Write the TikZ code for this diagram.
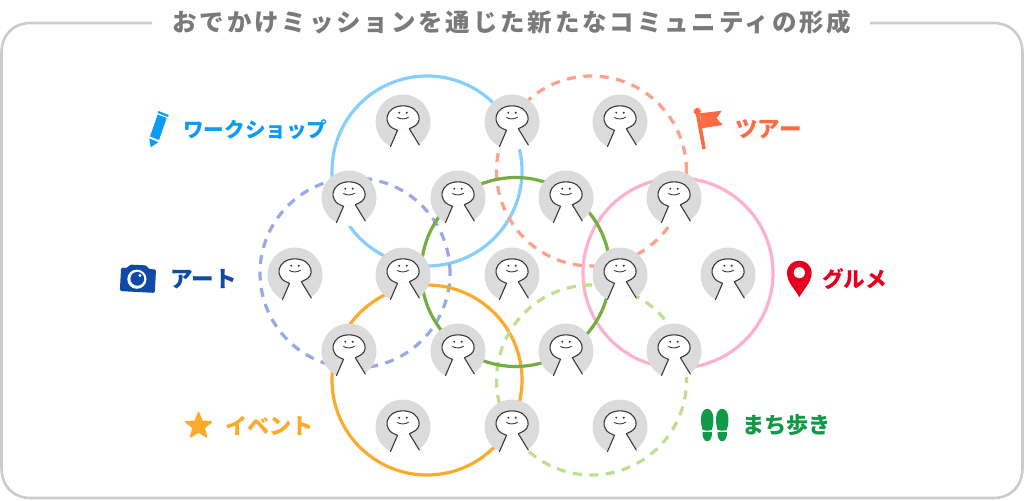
\documentclass[tikz,border=0pt]{standalone}
\usepackage{fontspec}
\usetikzlibrary{shapes.geometric}
\newfontfamily\jpfont{Noto Sans CJK JP}
\newfontfamily\jptitle[LetterSpace=11.5]{Noto Sans CJK JP}
\definecolor{cFrame}{HTML}{CCCCCC}
\definecolor{cTitle}{HTML}{7A7A7A}
\definecolor{cFace}{HTML}{DBDBDB}
\definecolor{cInk}{HTML}{3A3A3A}
\definecolor{cWork}{HTML}{0A9CF5}
\definecolor{cWorkR}{HTML}{85CFFF}
\definecolor{cTour}{HTML}{FF6A45}
\definecolor{cTourR}{HTML}{FFA08C}
\definecolor{cGour}{HTML}{E60020}
\definecolor{cGourR}{HTML}{FFB0CC}
\definecolor{cArt}{HTML}{0F4AA6}
\definecolor{cArtR}{HTML}{9AA8E8}
\definecolor{cEvent}{HTML}{FCAA2B}
\definecolor{cWalk}{HTML}{0F9A48}
\definecolor{cWalkR}{HTML}{BCE08D}
\definecolor{cCore}{HTML}{74AE42}
\tikzset{
  ring/.style={line width=3.2pt},
  dashring/.style={line width=3.2pt,dash pattern=on 9pt off 7.5pt},
  tagtext/.style={font=\jpfont\bfseries\fontsize{#1}{#1}\selectfont,inner sep=0pt,anchor=west},
  titletext/.style={font=\jptitle\bfseries\fontsize{24.5}{25}\selectfont,text=cTitle,inner sep=0pt},
  person/.pic={
    \fill[cFace] (0,0) circle[radius=27.5pt];
    \fill[white] (-5.5,8.3) -- (-13,26) .. controls (-6,29) and (8,29) .. (17,24) -- (6.3,6.7) -- cycle;
    \fill[white] (-5.5,8.3) .. controls (-9,6.8) and (-13,5.5) .. (-14.6,1.7)
      .. controls (-17.5,-3) and (-16,-9) .. (-11,-13)
      .. controls (-5,-17.2) and (5,-17.2) .. (11,-13)
      .. controls (16,-9) and (17.5,-3) .. (15,0.8)
      .. controls (13,4) and (9,5.5) .. (6.3,6.7) -- cycle;
    \draw[cInk,line width=1.1pt,line join=round,line cap=round]
      (-12.5,24.5) -- (-5.5,8.3) .. controls (-9,6.8) and (-13,5.5) .. (-14.6,1.7)
      .. controls (-17.5,-3) and (-16,-9) .. (-11,-13)
      .. controls (-5,-17.2) and (5,-17.2) .. (11,-13)
      .. controls (16,-9) and (17.5,-3) .. (15,0.8)
      .. controls (13,4) and (9,5.5) .. (6.3,6.7) -- (16.3,23);
    \fill[cInk] (-3.7,-9.3) circle[radius=1.1pt] (3.7,-9.3) circle[radius=1.1pt];
    \draw[cInk,line width=0.9pt,line cap=round] (-5.5,-4.5) .. controls (-3,-2.6) and (3,-2.6) .. (5.5,-4.8);
  }
}
\begin{document}
\begin{tikzpicture}[x=1pt,y=-1pt]
\useasboundingbox (0,0) rectangle (1024,500);
\fill[white] (0,0) rectangle (1024,500);
% frame
\draw[cFrame,line width=2.6pt] (152,23) -- (31,23) .. controls (13,23) and (1.5,35) .. (1.5,53)
  -- (1.5,468) .. controls (1.5,486) and (13,498) .. (31,498)
  -- (993,498) .. controls (1011,498) and (1022.5,486) .. (1022.5,468)
  -- (1022.5,53) .. controls (1022.5,35) and (1011,23) .. (993,23) -- (870,23);
\node[titletext] (title) at (512,22) {おでかけミッションを通じた新たなコミュニティの形成};
% rings
\draw[ring,cWorkR] (427,171) circle[radius=95pt];
\draw[dashring,cTourR] (591.5,171) circle[radius=95pt];
\draw[ring,cGourR] (678,273) circle[radius=95pt];
\draw[dashring,cArtR] (355,273) circle[radius=95pt];
\draw[ring,cEvent] (427,380) circle[radius=95pt];
\draw[dashring,cWalkR] (591.5,380) circle[radius=95pt];
\draw[ring,cCore] (515.7,272) circle[radius=94.5pt];
% people
\foreach \n/\px/\py in {a1/403/122,a2/512/122,a3/620/122,
  b1/349/198,b2/458/198,b3/566/198,b4/674/198,
  c1/295/275,c2/403/275,c3/512/275,c4/620/275,c5/728/275,
  d1/349/351,d2/458/351,d3/566/351,d4/674/351,
  e1/403/427,e2/512/427,e3/620/427}
  \pic (\n) at (\px,\py) {person};
% labels
\node[tagtext=20.6,text=cWork] (lwork) at (183,130) {ワークショップ};
\node[tagtext=22.6,text=cTour] (ltour) at (735,129) {ツアー};
\node[tagtext=22.6,text=cArt] (lart) at (170,279) {アート};
\node[tagtext=21.7,text=cGour] (lgour) at (822,279) {グルメ};
\node[tagtext=22.2,text=cEvent] (levent) at (225,426) {イベント};
\node[tagtext=22.2,text=cWalk] (lwalk) at (742,425.5) {まち歩き};
% pencil
\fill[cWork] (158.3,111) -- (168.7,115) -- (168,117) -- (157.6,113) -- cycle;
\fill[cWork] (157.7,114.5) -- (166.7,118) -- (159,140) -- (150,136.5) -- cycle;
\fill[cWork] (149.3,138.3) -- (158.3,142.3) -- (150.7,147.3) -- cycle;
% camera
\begin{scope}[rotate around={-3:(138,279)}]
\fill[cArt,rounded corners=1.5pt] (120.5,268.5) -- (127,268.5) -- (129,265) -- (146,265) -- (148,268.5) -- (155.5,268.5) -- (155.5,292) -- (120.5,292) -- cycle;
\end{scope}
\fill[white] (136.9,279.2) circle[radius=9.6pt];
\fill[cArt] (137.3,278.8) circle[radius=6.9pt];
\fill[white] (140,275.5) circle[radius=1.6pt];
% flag
\draw[cTour,line width=3.6pt] (697.3,112) -- (704,149);
\fill[cTour] (697.3,111.5) circle[radius=3.6pt];
\fill[cTour] (700,113.3) -- (721.7,110.7) -- (716.7,118.3) -- (722.7,125) -- (701.7,128.3) -- cycle;
% pin
\fill[cGour,even odd rule] (799.3,297.3) .. controls (796,290) and (787,283) .. (787,273)
  .. controls (787,265.5) and (792.5,260.7) .. (799.3,260.7)
  .. controls (806.1,260.7) and (811.6,265.5) .. (811.6,273)
  .. controls (811.6,283) and (802.6,290) .. (799.3,297.3) -- cycle
  (799.3,272.7) circle[radius=5.7pt];
% star
\node[star,star points=5,star point ratio=2.3,fill=cEvent,draw=cEvent,line width=1.5pt,line join=round,minimum size=27pt,inner sep=0pt] (starico) at (198.6,426) {};
% footprints
\foreach \fx in {707.2,722.2}{
  \fill[cWalk] (\fx-4.6,430) .. controls (\fx-6,425) and (\fx-6.4,421) .. (\fx-6.2,418)
    .. controls (\fx-5.8,412) and (\fx-3,408.8) .. (\fx,408.8)
    .. controls (\fx+3,408.8) and (\fx+5.8,412) .. (\fx+6.2,418)
    .. controls (\fx+6.4,421) and (\fx+6,425) .. (\fx+4.6,430)
    .. controls (\fx+1.5,431) and (\fx-1.5,431) .. (\fx-4.6,430) -- cycle;
  \fill[cWalk] (\fx-4.6,432.2) .. controls (\fx-1.5,431.6) and (\fx+1.5,431.6) .. (\fx+4.6,432.2)
    .. controls (\fx+5.2,437) and (\fx+3,441.3) .. (\fx,441.3)
    .. controls (\fx-3,441.3) and (\fx-5.2,437) .. (\fx-4.6,432.2) -- cycle;
}
\end{tikzpicture}
\end{document}
